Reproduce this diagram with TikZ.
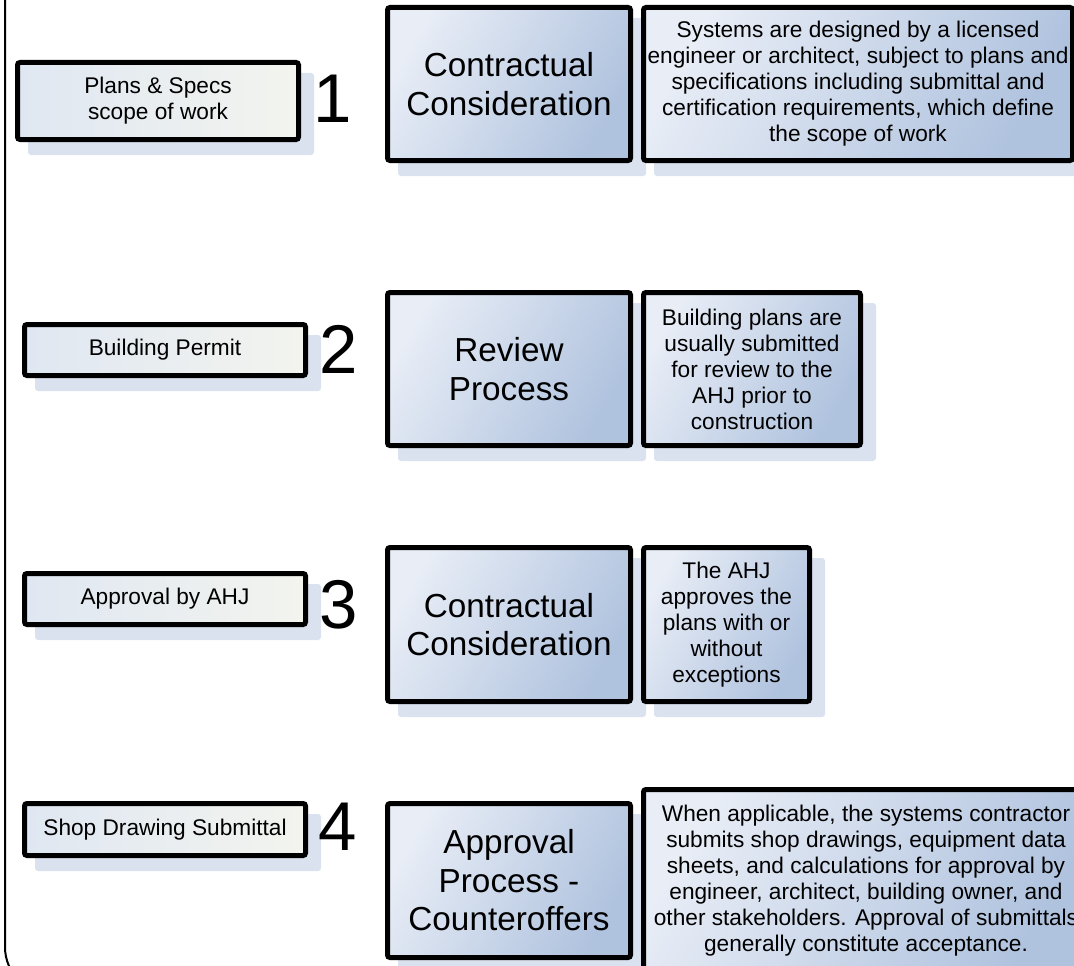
\documentclass[tikz,border=0pt]{standalone}
\usepackage{fontspec}
\setmainfont{Liberation Sans}
\pgfdeclarelayer{background}
\pgfsetlayers{background,main}
\definecolor{shadowc}{HTML}{DAE2EF}
\definecolor{bigL}{HTML}{E8EDF6}
\definecolor{bigD}{HTML}{AFC2DE}
\definecolor{smallL}{HTML}{DFE7F2}
\definecolor{smallR}{HTML}{F3F4EE}
\begin{document}
\begin{tikzpicture}[x=1pt,y=-1pt,
  box/.style={draw=black, line width=5pt, rounded corners=2.5pt, inner sep=0pt, align=center, text=black},
  smallbox/.style={box, left color=smallL, right color=smallR, minimum width=281pt,
    font=\fontsize{22.67}{26}\selectfont},
  bigbox/.style={box, top color=bigL, bottom color=bigD, shading angle=60, minimum width=243pt,
    font=\fontsize{33.3}{38.5}\selectfont},
  infobox/.style={box, top color=bigL, bottom color=bigD, shading angle=60,
    font=\fontsize{22.67}{26}\selectfont},
  digit/.style={anchor=base, inner sep=0pt, font=\fontsize{69}{69}\selectfont},
  shadowfill/.style={fill=shadowc, rounded corners=3pt}
]
\useasboundingbox (0,0) rectangle (1074,966);
% frame
\draw[line width=2pt, rounded corners=47pt] (5,-20) -- (5,994) -- (1100,994);

% row 1
\node[smallbox, minimum height=77pt] (s1) at (158,101) {Plans \& Specs\\scope of work};
\node[digit] (n1) at (333,122) {1};
\node[bigbox, minimum height=153pt] (b1) at (509,84) {Contractual\\Consideration};
\node[infobox, minimum width=429pt, minimum height=153pt] (r1) at (858,84)
  {Systems are designed by a licensed\\engineer or architect, subject to plans and\\specifications including submittal and\\certification requirements, which define\\the scope of work};

% row 2
\node[smallbox, minimum height=51pt] (s2) at (165,350) {Building Permit};
\node[digit] (n2) at (339,373) {2};
\node[bigbox, minimum height=153pt] (b2) at (509,369) {Review\\Process};
\node[infobox, minimum width=217pt, minimum height=153pt] (r2) at (752,369)
  {Building plans are\\usually submitted\\for review to the\\AHJ prior to\\construction};

% row 3
\node[smallbox, minimum height=51pt] (s3) at (165,599) {Approval by AHJ};
\node[digit] (n3) at (339,628) {3};
\node[bigbox, minimum height=154pt] (b3) at (509,624.5) {Contractual\\Consideration};
\node[infobox, minimum width=166pt, minimum height=154pt] (r3) at (726.5,624.5)
  {The AHJ\\approves the\\plans with or\\without\\exceptions};

% row 4
\node[smallbox, minimum height=52pt] (s4) at (165,829.5) {Shop Drawing Submittal};
\node[digit] (n4) at (338,850) {4};
\node[bigbox, minimum height=154pt] (b4) at (509,880.5) {Approval\\Process -\\Counteroffers};
\node[infobox, minimum width=445pt, minimum height=183pt] (r4) at (866,881)
  {When applicable, the systems contractor\\submits shop drawings, equipment data\\sheets, and calculations for approval by\\engineer, architect, building owner, and\\other stakeholders. Approval of submittals\\generally constitute acceptance.};

\begin{pgfonlayer}{background}
\foreach \n in {s1,b1,r1,s2,b2,r2,s3,b3,r3,s4,b4,r4}
  \fill[shadowfill] ([shift={(13,13)}]\n.north west) rectangle ([shift={(13,13)}]\n.south east);
\end{pgfonlayer}
\end{tikzpicture}
\end{document}
